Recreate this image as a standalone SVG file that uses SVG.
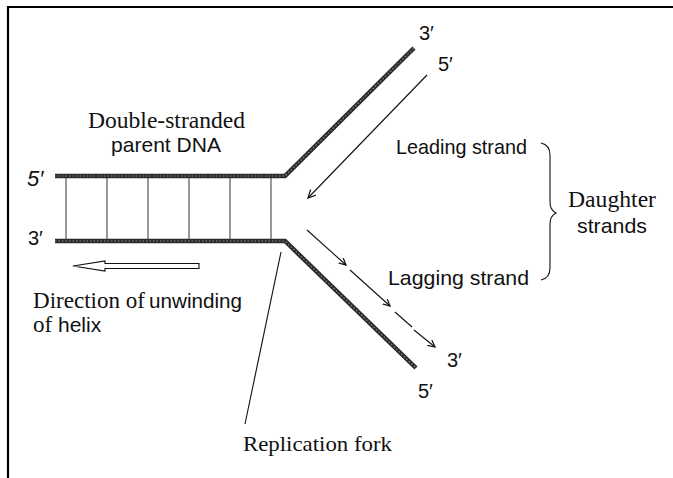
<svg xmlns="http://www.w3.org/2000/svg" width="673" height="478" viewBox="0 0 673 478">
<style>
.frame{stroke:#000;stroke-width:2.2;fill:none}
.strand{stroke:#2b2b2b;stroke-width:4.5;fill:none;stroke-linejoin:miter;stroke-linecap:butt}
.strandin{stroke:#8a8a8a;stroke-width:1.2;fill:none;stroke-dasharray:1.5 2}
.rung{stroke:#555;stroke-width:1.2}
.thin{stroke:#111;stroke-width:1.1;fill:none}
.sans{font-family:"Liberation Sans",Arial,sans-serif;fill:#111}
.serif{font-family:"Liberation Serif","Times New Roman",serif;fill:#111}
</style>
<defs>
<marker id="ah" markerWidth="10" markerHeight="10" refX="8" refY="4" orient="auto" markerUnits="userSpaceOnUse">
<path d="M0,0 L8,4 L0,8" fill="none" stroke="#111" stroke-width="1.2"/>
</marker>
<marker id="ahs" markerWidth="10" markerHeight="10" refX="7" refY="3.5" orient="auto" markerUnits="userSpaceOnUse">
<path d="M0,0 L7,3.5 L0,7" fill="none" stroke="#111" stroke-width="1.2"/>
</marker>
</defs>
<rect width="673" height="478" fill="#fff"/>
<g id="frame">
<path class="frame" d="M8,478 L8,7 L673,7"/>
</g>
<g id="parent-dna">
<path class="strand" d="M55,176 L285,176 L414,48"/>
<path class="strand" d="M55,241 L285,241 L416,368"/>
<path class="strandin" d="M55,176 L285,176 L414,48"/>
<path class="strandin" d="M55,241 L285,241 L416,368"/>
<line class="rung" x1="66" y1="178" x2="66" y2="239"/>
<line class="rung" x1="107" y1="178" x2="107" y2="239"/>
<line class="rung" x1="148" y1="178" x2="148" y2="239"/>
<line class="rung" x1="189" y1="178" x2="189" y2="239"/>
<line class="rung" x1="230" y1="178" x2="230" y2="239"/>
<line class="rung" x1="271" y1="178" x2="271" y2="239"/>
<text class="sans" x="27" y="186" font-size="22" font-style="italic">5′</text>
<text class="sans" x="28" y="245" font-size="20">3′</text>
<text class="serif" x="88" y="128" font-size="23" textLength="157" lengthAdjust="spacingAndGlyphs">Double-stranded</text>
<text class="sans" x="111" y="152" font-size="21" textLength="110" lengthAdjust="spacingAndGlyphs">parent DNA</text>
<text class="sans" x="419" y="40" font-size="20">3′</text>
<text class="sans" x="438" y="71" font-size="20">5′</text>
<text class="sans" x="447" y="367" font-size="20">3′</text>
<text class="sans" x="418" y="398" font-size="20">5′</text>
</g>
<g id="unwinding">
<polygon points="73,266 105,261 105,263.5 199,263.5 199,268.5 105,268.5 105,271" fill="#fff" stroke="#111" stroke-width="1.1"/>
<text x="33" y="308" font-size="23"><tspan class="serif" textLength="112" lengthAdjust="spacingAndGlyphs">Direction of</tspan><tspan class="sans" x="149" font-size="21" textLength="93" lengthAdjust="spacingAndGlyphs">unwinding</tspan></text>
<text x="33" y="332" font-size="23"><tspan class="serif">of</tspan><tspan class="sans" x="58" font-size="21">helix</tspan></text>
</g>
<g id="connectors">
<line class="thin" x1="427" y1="75" x2="308" y2="198" marker-end="url(#ah)"/>
<line class="thin" x1="307" y1="230" x2="346" y2="265" marker-end="url(#ahs)"/>
<line class="thin" x1="350" y1="270" x2="390" y2="306" marker-end="url(#ahs)"/>
<line class="thin" x1="395" y1="312" x2="412" y2="327"/>
<line class="thin" x1="414" y1="330" x2="435" y2="347" marker-end="url(#ahs)"/>
<line class="thin" x1="281" y1="252" x2="245" y2="424"/>
<path class="thin" d="M541,143 Q550,145 550,155 L550,202 Q550,210 556,213 Q550,216 550,224 L550,268 Q550,278 541,280"/>
</g>
<g id="labels">
<text class="sans" x="396" y="154" font-size="21" textLength="131" lengthAdjust="spacingAndGlyphs">Leading strand</text>
<text class="sans" x="388" y="285" font-size="21" textLength="141" lengthAdjust="spacingAndGlyphs">Lagging strand</text>
<text class="serif" x="568" y="207" font-size="24" textLength="88" lengthAdjust="spacingAndGlyphs">Daughter</text>
<text class="sans" x="577" y="233" font-size="21" textLength="70" lengthAdjust="spacingAndGlyphs">strands</text>
<text class="serif" x="243" y="451" font-size="22" textLength="149" lengthAdjust="spacingAndGlyphs">Replication fork</text>
</g>
</svg>
